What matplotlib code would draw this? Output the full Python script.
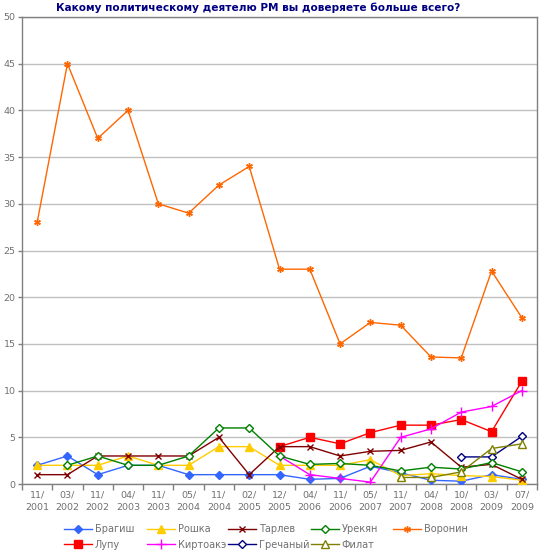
import numpy as np
import matplotlib.pyplot as plt

nan = np.nan

periods = ['11/\n2001', '03/\n2002', '11/\n2002', '04/\n2003', '11/\n2003', '05/\n2004',
           '11/\n2004', '02/\n2005', '12/\n2005', '04/\n2006', '11/\n2006', '05/\n2007',
           '11/\n2007', '04/\n2008', '10/\n2008', '03/\n2009', '07/\n2009']

bragish = [2, 3, 1, 2, 2, 1, 1, 1, 1, 0.5, 0.6, 1.9, 1.2, 0.4, 0.3, 1.0, 0.5]
roshka = [2, 2, 2, 3, 2, 2, 4, 4, 2, 2, 2, 2.6, 0.9, 1.1, 0.9, 0.8, 0.4]
tarlev = [1, 1, 3, 3, 3, 3, 5, 1, 4, 4, 3, 3.5, 3.6, 4.5, 1.8, 2.1, 0.5]
urekyan = [nan, 2, 3, 2, 2, 3, 6, 6, 3, 2.1, 2.2, 2.0, 1.4, 1.8, 1.6, 2.3, 1.3]
voronin = [28, 45, 37, 40, 30, 29, 32, 34, 23, 23, 15, 17.3, 17, 13.6, 13.5, 22.8, 17.8]
lupu = [nan] * 8 + [4.0, 5.0, 4.3, 5.5, 6.3, 6.3, 6.9, 5.6, 11.0]
kirtoake = [nan] * 8 + [3, 1, 0.6, 0.2, 5.0, 5.9, 7.7, 8.3, 10.0]
grechany = [nan] * 14 + [2.9, 2.9, 5.1]
filat = [nan] * 12 + [0.7, 0.7, 1.3, 3.8, 4.3]

# name, values, color, marker, marker face, size
series = [
    ('Брагиш', bragish, '#3366FF', 'D', '#3366FF', 4.2),
    ('Лупу', lupu, '#FF0000', 's', '#FF0000', 5.2),
    ('Рошка', roshka, '#FFCC00', '^', '#FFCC00', 5.5),
    ('Киртоакэ', kirtoake, '#FF00FF', '+', '#FF00FF', 6.5),
    ('Тарлев', tarlev, '#800000', 'x', '#800000', 4.5),
    ('Гречаный', grechany, '#000080', 'D', 'white', 4.2),
    ('Урекян', urekyan, '#008000', 'D', 'white', 4.2),
    ('Филат', filat, '#808000', '^', 'white', 5.5),
    ('Воронин', voronin, '#FF6600', (6, 2, 0), '#FF6600', 4.8),
]

fig = plt.figure(figsize=(5.4, 5.55), dpi=100)
ax = fig.add_axes([22 / 540, 1 - 484 / 555, 515 / 540, 467 / 555])

x = np.arange(len(periods))
handles = []
for name, vals, col, mk, face, ms in series:
    ln, = ax.plot(x, vals, color=col, lw=1.0, marker=mk, markersize=ms,
                  markerfacecolor=face, markeredgecolor=col, markeredgewidth=1.0,
                  label=name, zorder=3)
    handles.append(ln)

ax.set_xlim(-0.5, len(periods) - 0.5)
ax.set_ylim(0, 50)
ax.set_yticks(np.arange(0, 51, 5))
ax.yaxis.grid(True, color='#C0C0C0', lw=1.0)
ax.set_axisbelow(True)

ax.set_xticks(np.arange(-0.5, len(periods), 1.0))
ax.set_xticklabels([])
ax.set_xticks(x, minor=True)
ax.set_xticklabels(periods, minor=True, linespacing=1.5)
ax.tick_params(axis='x', which='major', length=4, color='#808080', width=1)
ax.tick_params(axis='x', which='minor', length=0, pad=5, labelsize=6.8, labelcolor='#707070')
ax.tick_params(axis='y', length=3, color='#808080', width=1, pad=1.5,
               labelsize=6.8, labelcolor='#707070')

for s in ax.spines.values():
    s.set_color('#808080')
    s.set_linewidth(1.0)

fig.text(258 / 540, 1 - 8 / 555, 'Какому политическому деятелю РМ вы доверяете больше всего?',
         ha='center', va='center', fontsize=7.6, fontweight='bold', color='#000080')

# legend laid out in 5 fixed-width columns, like the original
col_x = [64, 147, 228, 311, 393]
for i, cx in enumerate(col_x):
    hs = handles[2 * i:2 * i + 2]
    fig.legend(handles=hs, labels=[h.get_label() for h in hs],
               loc='upper left', bbox_to_anchor=(cx / 540, 1 - 524 / 555),
               frameon=False, fontsize=7.0, labelcolor='#707070',
               handlelength=2.9, handletextpad=0.25, borderpad=0,
               borderaxespad=0, labelspacing=0.6, numpoints=1)

fig.savefig('out.png', dpi=100)
